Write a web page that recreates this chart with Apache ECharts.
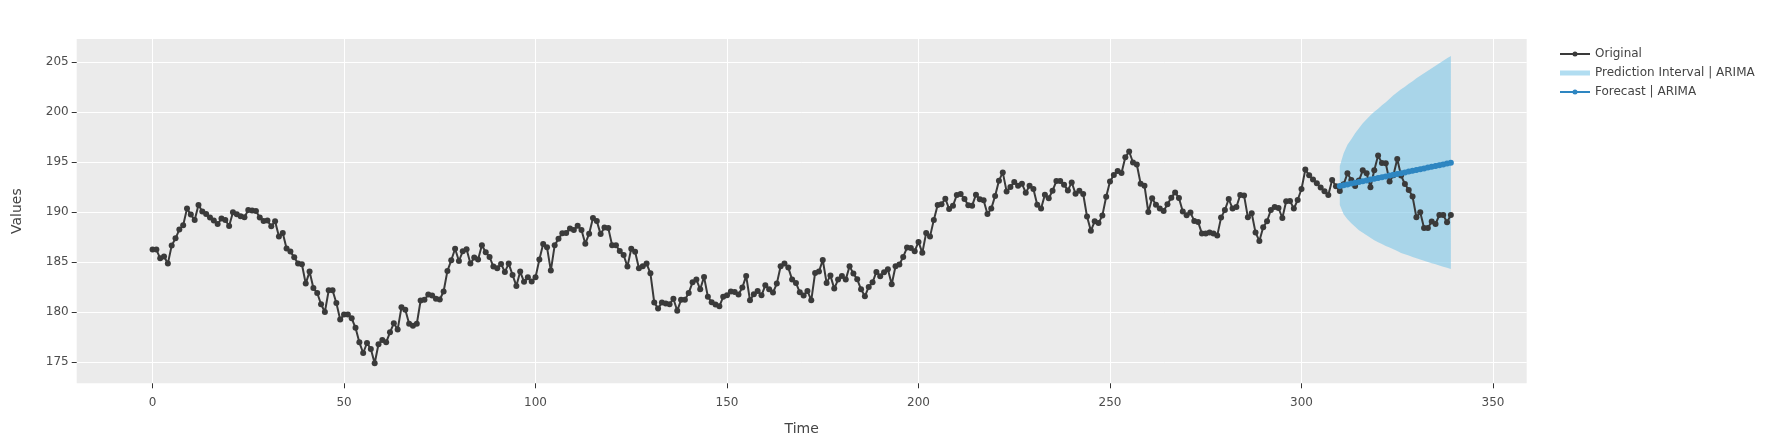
<!DOCTYPE html>
<html><head><meta charset="utf-8">
<script src="https://cdn.jsdelivr.net/npm/echarts@6/dist/echarts.min.js"></script>
<style>html,body{margin:0;padding:0;background:#fff}#c{width:1771px;height:443px}</style>
</head><body><div id="c"></div>
<script>
// Observed series, t = 0..339
const original = [
186.27,186.27,185.4,185.57,184.87,186.67,187.4,188.27,188.7,190.37,
189.77,189.23,190.73,190.07,189.83,189.47,189.17,188.83,189.37,189.23,
188.63,190.0,189.8,189.6,189.5,190.23,190.17,190.13,189.47,189.13,
189.17,188.6,189.1,187.57,187.93,186.37,186.07,185.5,184.87,184.8,
182.87,184.07,182.43,181.93,180.8,180.03,182.2,182.2,180.93,179.27,
179.77,179.77,179.4,178.45,177.0,175.93,176.93,176.33,174.9,176.8,
177.23,177.0,178.0,178.9,178.27,180.5,180.25,178.85,178.65,178.85,
181.18,181.25,181.78,181.68,181.35,181.28,182.08,184.14,185.2,186.36,
185.13,186.1,186.3,184.87,185.47,185.27,186.7,186.0,185.53,184.57,
184.4,184.83,184.04,184.87,183.74,182.64,184.07,183.05,183.5,183.07,
183.5,185.27,186.83,186.5,184.17,186.7,187.36,187.9,187.92,188.39,
188.22,188.65,188.22,186.86,187.86,189.42,189.12,187.82,188.49,188.42,
186.7,186.7,186.13,185.73,184.57,186.36,186.06,184.4,184.6,184.87,
183.9,180.98,180.38,180.98,180.88,180.81,181.35,180.15,181.25,181.25,
181.94,183.0,183.27,182.3,183.54,181.55,181.0,180.77,180.6,181.55,
181.7,182.07,182.04,181.77,182.47,183.64,181.2,181.8,182.14,181.7,
182.7,182.3,181.97,182.87,184.6,184.87,184.47,183.27,182.94,182.0,
181.67,182.14,181.2,183.94,184.07,185.23,182.94,183.67,182.37,183.27,
183.64,183.27,184.6,183.87,183.3,182.3,181.6,182.54,183.0,184.04,
183.6,184.0,184.3,182.8,184.6,184.78,185.54,186.47,186.43,186.11,
187.04,185.95,187.94,187.57,189.24,190.73,190.8,191.36,190.33,190.66,
191.73,191.83,191.33,190.7,190.66,191.76,191.3,191.2,189.83,190.37,
191.63,193.16,193.99,192.09,192.52,193.02,192.66,192.86,191.96,192.66,
192.33,190.76,190.37,191.76,191.4,192.16,193.12,193.12,192.76,192.19,
192.99,191.86,192.16,191.83,189.57,188.15,189.1,188.92,189.67,191.56,
193.09,193.72,194.12,193.92,195.51,196.08,194.98,194.78,192.86,192.66,
190.03,191.4,190.76,190.37,190.13,190.8,191.46,191.99,191.43,190.07,
189.7,189.97,189.14,189.04,187.87,187.87,187.97,187.87,187.67,189.47,
190.23,191.33,190.37,190.53,191.73,191.69,189.5,189.9,187.97,187.14,
188.5,189.1,190.23,190.53,190.43,189.43,191.1,191.13,190.37,191.23,
192.33,194.27,193.7,193.27,192.9,192.47,192.1,191.73,193.23,192.6,
192.13,192.8,193.9,193.23,192.63,193.17,194.2,193.9,192.5,194.2,
195.67,194.93,194.9,193.07,193.7,195.33,193.67,192.83,192.23,191.57,
189.5,190.0,188.43,188.43,189.07,188.83,189.73,189.73,189.0,189.73
];
const forecastStart = 310;
const forecast = [
192.63,192.71,192.79,192.87,192.95,193.03,193.11,193.19,193.27,193.35,
193.43,193.51,193.59,193.67,193.75,193.83,193.91,193.99,194.07,194.15,
194.23,194.31,194.39,194.47,194.55,194.63,194.71,194.79,194.87,194.95
];
const piUpper = [
194.63,195.9,196.75,197.3,197.9,198.4,198.9,199.3,199.7,200.05,
200.35,200.7,201.0,201.35,201.7,202.0,202.3,202.55,202.85,203.1,
203.4,203.65,203.9,204.15,204.4,204.65,204.9,205.15,205.4,205.63
];
const piLower = [
190.73,189.8,189.3,188.9,188.55,188.2,187.95,187.7,187.45,187.2,
187.0,186.82,186.64,186.47,186.3,186.12,185.93,185.8,185.67,185.53,
185.4,185.28,185.15,185.03,184.9,184.8,184.68,184.56,184.45,184.33
];
const xTicks = [0,50,100,150,200,250,300,350];
const yTicks = [175,180,185,190,195,200,205];

const FONT = '"DejaVu Sans", Verdana, sans-serif';
const BAND = 'rgba(125,198,232,0.6)';
const LINE_ICON = 'path://M0,2H30V4H0Z M12.5,3a2.5,2.5 0 1,1 5,0a2.5,2.5 0 1,1 -5,0Z';
const origData = original.map((v, i) => [i, v]);
const fcData = forecast.map((v, i) => [forecastStart + i, v]);
const bandData = piUpper.map((v, i) => [forecastStart + i, v, piLower[i]]);

const chart = echarts.init(document.getElementById('c'), null, {renderer: 'canvas'});
chart.setOption({
  animation: false,
  backgroundColor: '#ffffff',
  textStyle: {fontFamily: FONT},
  grid: {left: 76.7, top: 39, width: 1450, height: 344.3, containLabel: false,
         show: true, backgroundColor: '#ebebeb', borderWidth: 0},
  legend: {
    orient: 'vertical', left: 1555, top: 43, itemWidth: 30, itemHeight: 12, itemGap: 7,
    textStyle: {fontFamily: FONT, fontSize: 12, color: '#444'},
    data: [
      {name: 'Original', icon: LINE_ICON, itemStyle: {color: '#3a3a3a'}},
      {name: 'Prediction Interval | ARIMA', icon: 'path://M0,0H30V5H0Z', itemStyle: {color: BAND}},
      {name: 'Forecast | ARIMA', icon: LINE_ICON, itemStyle: {color: '#2e86c1'}}
    ]
  },
  xAxis: {
    type: 'value', min: -19.8, max: 358.8,
    name: 'Time', nameLocation: 'middle', nameGap: 39,
    nameTextStyle: {fontFamily: FONT, fontSize: 14, color: '#444'},
    axisLine: {show: false, onZero: false},
    axisTick: {show: true, length: 5, lineStyle: {color: '#333'}, customValues: xTicks},
    axisLabel: {fontFamily: FONT, fontSize: 12, color: '#4d4d4d', margin: 14, customValues: xTicks},
    splitLine: {show: true, lineStyle: {color: '#ffffff', width: 1}}
  },
  yAxis: {
    type: 'value', min: 172.9, max: 207.33,
    name: 'Values', nameLocation: 'middle', nameGap: 52, nameRotate: 90,
    nameTextStyle: {fontFamily: FONT, fontSize: 14, color: '#444'},
    axisLine: {show: false, onZero: false},
    axisTick: {show: true, length: 5, lineStyle: {color: '#333'}, customValues: yTicks},
    axisLabel: {fontFamily: FONT, fontSize: 12, color: '#4d4d4d', margin: 8, customValues: yTicks},
    splitLine: {show: true, lineStyle: {color: '#ffffff', width: 1}}
  },
  series: [
    {name: 'Prediction Interval | ARIMA', type: 'custom', silent: true, z: 1,
     itemStyle: {color: BAND},
     data: bandData, encode: {x: 0, y: [1, 2]},
     renderItem: function (params, api) {
       if (params.dataIndex !== 0) return null;
       const pts = [];
       for (let i = 0; i < piUpper.length; i++) pts.push(api.coord([forecastStart + i, piUpper[i]]));
       for (let i = piLower.length - 1; i >= 0; i--) pts.push(api.coord([forecastStart + i, piLower[i]]));
       return {type: 'polygon', shape: {points: pts}, style: {fill: BAND}};
     }},
    {name: 'Original', type: 'line', data: origData, symbol: 'circle', symbolSize: 6, showSymbol: true,
     lineStyle: {color: '#3a3a3a', width: 2}, itemStyle: {color: '#3a3a3a'}, z: 3},
    {name: 'Forecast | ARIMA', type: 'line', data: fcData, symbol: 'circle', symbolSize: 6,
     lineStyle: {color: '#2e86c1', width: 4.5}, itemStyle: {color: '#2e86c1'}, z: 4}
  ]
});
</script></body></html>
